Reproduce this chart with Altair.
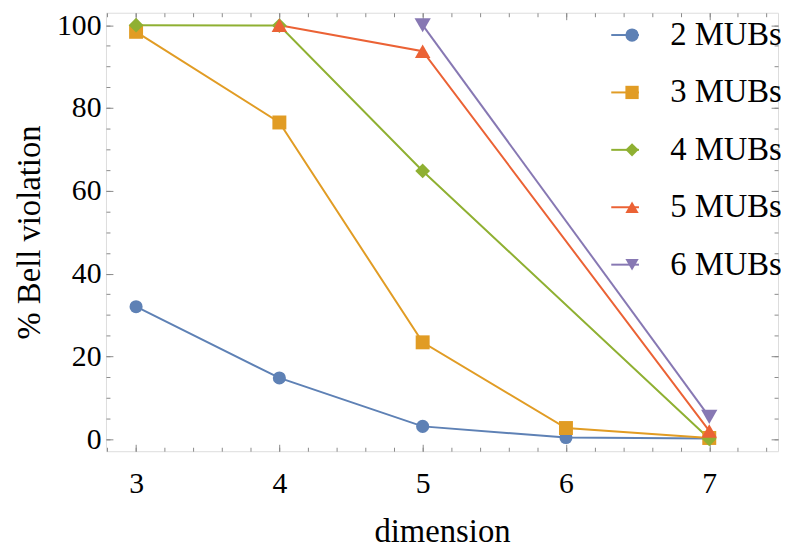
import altair as alt
import pandas as pd

series = ["2 MUBs", "3 MUBs", "4 MUBs", "5 MUBs", "6 MUBs"]
dims_2 = [3, 4, 5, 6, 7]
vals_2 = [32.0, 14.8, 3.1, 0.4, 0.2]
dims_3 = [3, 4, 5, 6, 7]
vals_3 = [98.4, 76.5, 23.4, 2.7, 0.3]
dims_4 = [3, 4, 5, 7]
vals_4 = [100.0, 99.9, 64.8, 0.1]
dims_5 = [4, 5, 7]
vals_5 = [100.0, 93.7, 2.0]
dims_6 = [5, 7]
vals_6 = [100.0, 5.4]

colors = ["#5E81B5", "#E19C24", "#8FB032", "#EB6235", "#8778B3"]
shapes = ["circle", "square", "diamond", "triangle-up", "triangle-down"]
marker_sizes = [175, 270, 225, 240, 240]

x_major = [3, 4, 5, 6, 7]
x_minor = [round(2.8 + 0.2 * i, 1) for i in range(24)]
y_major = [0, 20, 40, 60, 80, 100]
y_minor = list(range(0, 101, 5))

rows = []
for name, ds, vs in zip(series,
                        [dims_2, dims_3, dims_4, dims_5, dims_6],
                        [vals_2, vals_3, vals_4, vals_5, vals_6]):
    for d, v in zip(ds, vs):
        rows.append({"series": name, "dimension": d, "value": v})
df = pd.DataFrame(rows)

FONT = "Liberation Serif, Tinos, Times New Roman, DejaVu Serif, serif"
GRAY = "#8a8a8a"

xs = alt.Scale(domain=[2.79, 7.48], nice=False, zero=False)
ys = alt.Scale(domain=[-2.9, 103], nice=False, zero=False)

base = alt.Chart(df)


def tick_axis(values, size, orient):
    return alt.Axis(values=values, labels=False, domain=False, ticks=True,
                    tickSize={"expr": str(-size)}, tickColor=GRAY, tickWidth=1,
                    title=None, orient=orient, grid=False)


color_line = alt.Color(
    "series:N",
    scale=alt.Scale(domain=series, range=colors),
    legend=alt.Legend(orient="none", legendX=508, legendY=6, direction="vertical",
                      symbolType="stroke", symbolSize=784, symbolStrokeWidth=2,
                      labelFontSize=33, labelOffset=14, rowPadding=24,
                      labelExpr="' '", title=None, padding=0, labelFont=FONT),
)

lines = base.mark_line(strokeWidth=2).encode(
    x=alt.X("dimension:Q", scale=xs,
            axis=alt.Axis(values=x_major, ticks=False, domain=False, labelFontSize=30,
                          labelPadding=18, labelColor="black", title="dimension",
                          titleFontSize=33, titleFontWeight="normal", titlePadding=17,
                          titleColor="black", orient="bottom", grid=False, format="d",
                          labelFont=FONT, titleFont=FONT)),
    y=alt.Y("value:Q", scale=ys,
            axis=alt.Axis(values=y_major, ticks=False, domain=False, labelFontSize=30,
                          labelPadding=5, labelColor="black", title="% Bell violation",
                          titleFontSize=33, titleFontWeight="normal", titlePadding=10,
                          titleColor="black", orient="left", grid=False, format="d",
                          labelFont=FONT, titleFont=FONT)),
    color=color_line,
    order=alt.Order("dimension:Q"),
)

pt_legend = alt.Legend(orient="none", legendX=515, legendY=6, direction="vertical",
                       symbolSize=180, symbolStrokeWidth=0,
                       labelFontSize=33, labelOffset=22, rowPadding=24,
                       labelColor="black", title=None, padding=0, labelFont=FONT)

points = base.mark_point(filled=True, opacity=1).encode(
    x=alt.X("dimension:Q", scale=xs, axis=tick_axis(x_major, 7, "bottom")),
    y=alt.Y("value:Q", scale=ys, axis=tick_axis(y_major, 7, "left")),
    color=alt.Color("series:N", scale=alt.Scale(domain=series, range=colors), legend=pt_legend),
    shape=alt.Shape("series:N", scale=alt.Scale(domain=series, range=shapes), legend=pt_legend),
    size=alt.Size("series:N", scale=alt.Scale(domain=series, range=marker_sizes), legend=None),
)

inv1 = base.mark_point(opacity=0).encode(
    x=alt.X("dimension:Q", scale=xs, axis=tick_axis(x_minor, 4, "bottom")),
    y=alt.Y("value:Q", scale=ys, axis=tick_axis(y_minor, 4, "left")),
)
inv2 = base.mark_point(opacity=0).encode(
    x=alt.X("dimension:Q", scale=xs, axis=tick_axis(x_major, 7, "top")),
    y=alt.Y("value:Q", scale=ys, axis=tick_axis(y_major, 7, "right")),
)
inv3 = base.mark_point(opacity=0).encode(
    x=alt.X("dimension:Q", scale=xs, axis=tick_axis(x_minor, 4, "top")),
    y=alt.Y("value:Q", scale=ys, axis=tick_axis(y_minor, 4, "right")),
)

chart = (
    alt.layer(lines, points, inv1, inv2, inv3)
    .resolve_axis(x="independent", y="independent")
    .resolve_legend(color="independent", shape="independent")
    .properties(width=679, height=443,
                autosize=alt.AutoSizeParams(type="none"),
                padding={"left": 99, "top": 2, "right": 3, "bottom": 98})
    .configure_view(stroke=GRAY, strokeWidth=1.2)
    .configure(font=FONT, background="white")
)

chart.save("out.html", embed_options={"renderer": "svg", "actions": False})
